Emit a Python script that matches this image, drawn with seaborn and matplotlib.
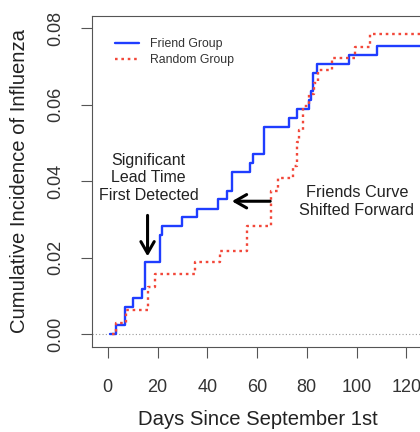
import matplotlib
matplotlib.use("Agg")
import matplotlib.pyplot as plt
from matplotlib.lines import Line2D
import pandas as pd
import seaborn as sns

groups = ["Friend Group", "Random Group"]

friend_days = [1, 3.3, 6.8, 10, 13.8, 15, 21, 21.8, 30, 36, 44.5, 47.9, 49.9,
               57, 58.2, 63, 73, 76, 80.8, 81.6, 82.5, 84.3, 97, 108.3, 135]
friend_inc = [0, 0.0024, 0.0071, 0.0094, 0.0118, 0.0188, 0.0259, 0.0282, 0.0306,
              0.0329, 0.0353, 0.0376, 0.0424, 0.0447, 0.0471, 0.0541, 0.0565,
              0.0588, 0.0612, 0.0635, 0.0682, 0.0706, 0.0729, 0.0753, 0.0753]

random_days = [1.7, 3.5, 7.2, 16.2, 19, 35, 45, 56, 65.5, 68.5, 74.5, 76, 77,
               78.5, 81, 83, 84.5, 90.3, 99.5, 105.5, 135]
random_inc = [0, 0.0031, 0.0063, 0.0125, 0.0157, 0.0188, 0.0219, 0.0282, 0.0376,
              0.0408, 0.0439, 0.0502, 0.0533, 0.0596, 0.0627, 0.0658, 0.0690,
              0.0721, 0.0752, 0.0784, 0.0784]

x_ticks = [0, 20, 40, 60, 80, 100, 120]
y_ticks = [0.00, 0.02, 0.04, 0.06, 0.08]
y_tick_labels = ["0.00", "0.02", "0.04", "0.06", "0.08"]

sns.set_theme(style="ticks")
plt.rcParams['font.family'] = ['Liberation Sans', 'DejaVu Sans']

df = pd.concat([
    pd.DataFrame({"day": friend_days, "inc": friend_inc, "group": groups[0]}),
    pd.DataFrame({"day": random_days, "inc": random_inc, "group": groups[1]}),
], ignore_index=True)

palette = {groups[0]: "#1f3dff", groups[1]: "#f2483a"}
dashes = {groups[0]: "", groups[1]: (1.1, 1.6)}

fig = plt.figure(figsize=(4.2, 4.32), dpi=100)
ax = fig.add_axes([0.2198, 0.1975, 0.7897, 0.7655])

ax.axhline(0, color="#999999", lw=0.8, ls=(0, (1, 2)), zorder=1)

sns.lineplot(data=df, x="day", y="inc", hue="group", style="group",
             palette=palette, dashes=dashes, drawstyle="steps-post",
             lw=1.7, ax=ax, legend=False, estimator=None, sort=False, zorder=3)

ax.set_xlim(-6.2, 127.1)
ax.set_ylim(-0.0032, 0.0832)

frame_col = "#555555"
for s in ax.spines.values():
    s.set_color(frame_col)
    s.set_linewidth(0.8)
ax.tick_params(direction="out", length=8, width=0.8, color=frame_col,
               labelsize=13, labelcolor="#333333")
ax.tick_params(axis="x", pad=15)
ax.tick_params(axis="y", pad=12)
ax.set_xticks(x_ticks)
ax.set_yticks(y_ticks, labels=y_tick_labels, rotation=90, va="center")

ax.set_xlabel("Days Since September 1st", fontsize=14.6, color="#222222")
ax.set_ylabel("Cumulative Incidence of Influenza", fontsize=14.6, color="#222222")
ax.xaxis.set_label_coords(0.5, -0.19)
ax.yaxis.set_label_coords(-0.19, 0.5)

handles = [Line2D([], [], color=palette[groups[0]], lw=1.7),
           Line2D([], [], color=palette[groups[1]], lw=1.7, dashes=dashes[groups[1]])]
ax.legend(handles, groups, loc="upper left", bbox_to_anchor=(0.068, 0.933),
          frameon=False, fontsize=8.8, handlelength=2.0, handletextpad=0.9,
          labelspacing=0.35, borderaxespad=0, borderpad=0, labelcolor="#333333")

ax.text(16.4, 0.0409, "Significant\nLead Time\nFirst Detected", ha="center",
        va="center", fontsize=11.5, color="#222222", linespacing=1.2)
ax.annotate("", xy=(16.0, 0.0204), xytext=(16.0, 0.0311),
            arrowprops=dict(arrowstyle="->,head_length=0.7,head_width=0.4",
                            lw=2.2, color="black", shrinkA=0, shrinkB=0))

ax.text(100.1, 0.0347, "Friends Curve\nShifted Forward", ha="center",
        va="center", fontsize=11.7, color="#222222", linespacing=1.2)
ax.annotate("", xy=(49.9, 0.0348), xytext=(65.3, 0.0348),
            arrowprops=dict(arrowstyle="->,head_length=0.7,head_width=0.4",
                            lw=2.2, color="black", shrinkA=0, shrinkB=0))

fig.savefig("out.png", dpi=100)
